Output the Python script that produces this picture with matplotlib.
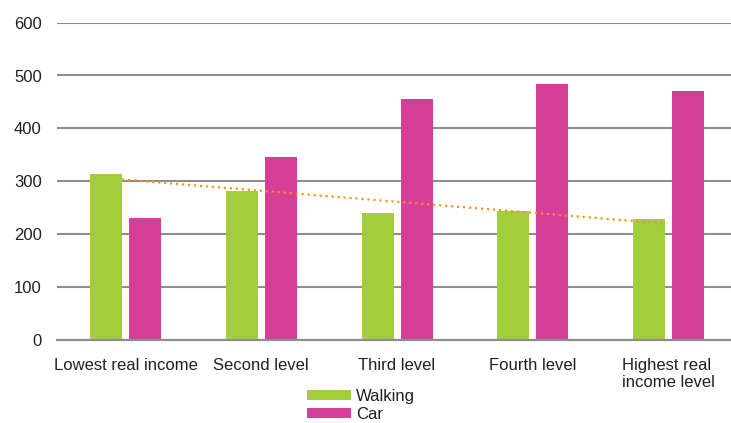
import numpy as np
import matplotlib
matplotlib.use("Agg")
import matplotlib.pyplot as plt

plt.rcParams['font.family'] = ['Liberation Sans', 'DejaVu Sans']

categories = ["Lowest real income", "Second level", "Third level", "Fourth level", "Highest real\nincome level"]
walking = [314, 282, 240, 244, 229]
car = [231, 346, 455, 484, 470]
yticks = [0, 100, 200, 300, 400, 500, 600]

green = "#A3CD39"
pink = "#D63E97"
orange = "#F7941D"
gridc = "#8E8E90"

fig = plt.figure(figsize=(7.31, 4.23), dpi=100)
ax = fig.add_axes([57/731, 1-340/423, 1-57/731, (340-22.6)/423])

x = np.arange(len(categories))
w = 0.236
off = 0.1437
ax.bar(x - off, walking, w, color=green, label="Walking", zorder=2)
ax.bar(x + off, car, w, color=pink, label="Car", zorder=2)

# linear trendline for walking
coef = np.polyfit(x + 1, walking, 1)
xt = np.array([x[0], x[-1]], dtype=float)
yt = np.polyval(coef, xt + 1)
ax.plot(xt - 0.025, yt, color=orange, lw=1.6, linestyle=(0, (1, 1.7)), zorder=3)

ax.set_ylim(0, 600)
ax.set_xlim(-0.505, 4.46)
ax.set_yticks(yticks)
ax.yaxis.grid(True, color=gridc, lw=1.5, zorder=0)
ax.set_axisbelow(True)
for s in ['top', 'right', 'left']:
    ax.spines[s].set_visible(False)
ax.spines['bottom'].set_color(gridc)
ax.spines['bottom'].set_linewidth(1.6)
ax.set_xticks(x)
ax.set_xticklabels(categories, multialignment='left')
ax.tick_params(axis='both', length=0, labelsize=12, colors='#231F20')
ax.tick_params(axis='x', pad=13)
ax.tick_params(axis='y', pad=11)

fig.legend(loc='upper left', bbox_to_anchor=(307/731, 1-389/423), frameon=False,
           fontsize=12, handlelength=2.65, handleheight=0.5, handletextpad=0.3,
           labelspacing=0.18, borderpad=0, borderaxespad=0, labelcolor='#231F20')

fig.savefig("out.png", dpi=100)
